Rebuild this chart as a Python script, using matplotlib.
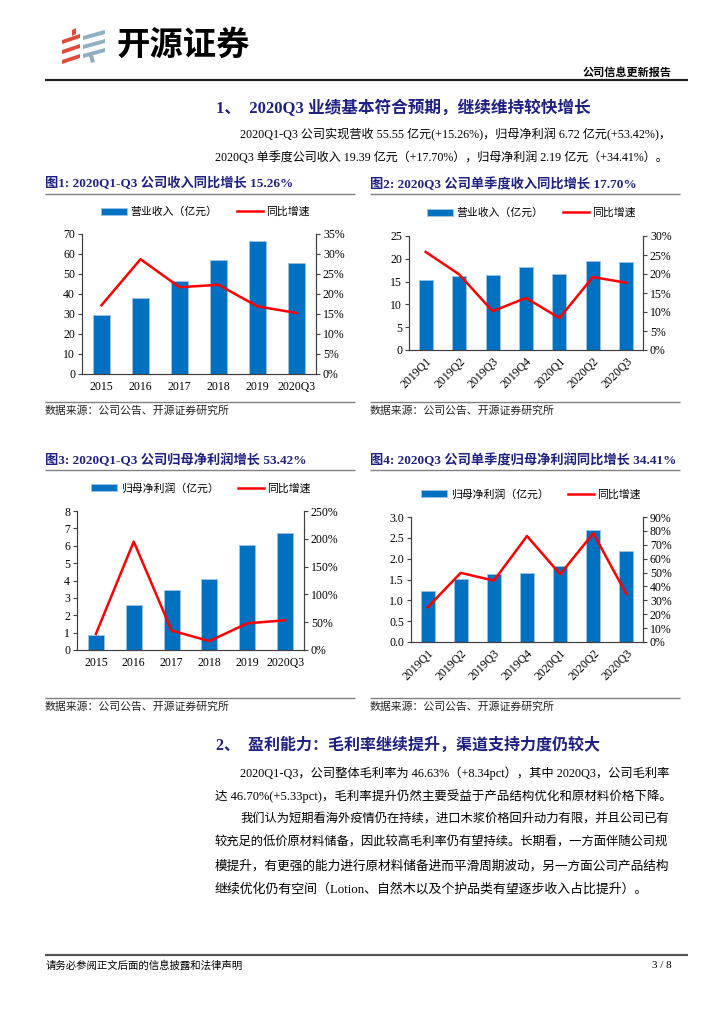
import numpy as np
import matplotlib
matplotlib.use('Agg')
import matplotlib.pyplot as plt
from matplotlib.patches import Polygon, Patch
from matplotlib.lines import Line2D

W, H = 724, 1024
SERIF = ['Liberation Serif', 'Noto Sans CJK SC']
CJK = ['Noto Sans CJK SC', 'DejaVu Sans']
NAVY = '#1F2083'
BLUE = '#0070C0'
RED = '#FF0000'

# data
years = ['2015', '2016', '2017', '2018', '2019', '2020Q3']
quarters = ['2019Q1', '2019Q2', '2019Q3', '2019Q4', '2020Q1', '2020Q2', '2020Q3']
revenue = [29.5, 38.1, 46.4, 56.8, 66.3, 55.55]
revenue_yoy = [17.2, 28.7, 21.7, 22.3, 16.9, 15.26]
q_revenue = [15.4, 16.3, 16.4, 18.2, 16.7, 19.5, 19.39]
q_revenue_yoy = [25.8, 19.9, 10.2, 13.7, 8.4, 19.2, 17.70]
profit = [0.85, 2.6, 3.48, 4.06, 6.04, 6.72]
profit_yoy = [29, 195, 35, 16, 48, 53.42]
q_profit = [1.23, 1.51, 1.63, 1.66, 1.83, 2.69, 2.19]
q_profit_yoy = [24.9, 49.8, 44.2, 76.3, 48.8, 78.3, 34.41]

fig = plt.figure(figsize=(W / 100, H / 100), dpi=100)
fig.patch.set_facecolor('white')
renderer = fig.canvas.get_renderer()

# overlay in pixel coords for page furniture
ov = fig.add_axes([0, 0, 1, 1])
ov.set_xlim(0, W)
ov.set_ylim(H, 0)
ov.axis('off')


def txt(x, y, s, size, color='black', weight='normal', ha='left', fit=None, family=SERIF):
    t = ov.text(x, y, s, fontsize=size, color=color, fontweight=weight,
                ha=ha, va='center', family=family)
    if fit:
        w = t.get_window_extent(renderer).width
        t.set_fontsize(size * fit / w)
    return t


def hline(x0, x1, y, lw=1.0, color='#808080'):
    ov.plot([x0, x1], [y, y], color=color, lw=lw, solid_capstyle='butt')


# logo
for yy in [36, 46, 56]:
    ov.add_patch(Polygon([(62, yy + 4), (80, yy - 2), (80, yy + 2), (62, yy + 8)],
                         closed=True, color='#E04A3A', lw=0))
ov.add_patch(Polygon([(72, 30), (76, 28), (76, 34), (72, 36)], closed=True, color='#E04A3A', lw=0))
for yy in [32, 41, 50]:
    ov.add_patch(Polygon([(83, yy + 4), (105, yy - 2), (105, yy + 2), (83, yy + 8)],
                         closed=True, color='#8FAFC4', lw=0))
ov.add_patch(Polygon([(89, 56), (93, 55), (95, 62), (91, 63)], closed=True, color='#8FAFC4', lw=0))
txt(117, 45, '开源证券', 24, weight='bold', family=CJK)
txt(672, 72, '公司信息更新报告', 8, weight='bold', ha='right', family=CJK)
hline(45, 688, 80, lw=1.6, color='#222222')

# section 1
txt(216, 108, '1、  2020Q3 业绩基本符合预期，继续维持较快增长', 12, color=NAVY, weight='bold')
txt(240, 135, '2020Q1-Q3 公司实现营收 55.55 亿元(+15.26%)，归母净利润 6.72 亿元(+53.42%)，', 9.5, fit=432)
txt(215, 158, '2020Q3 单季度公司收入 19.39 亿元（+17.70%），归母净利润 2.19 亿元（+34.41%）。', 9.5, fit=457)


def chart(box, title, title_xy, cats, bars, yoy, ymax, ystep, rmax, rstep,
          bar_label, legend_xy, rotate, yfmt, line_x, src_y):
    l, t, r, b = box
    ax = fig.add_axes([l / W, 1 - b / H, (r - l) / W, (b - t) / H])
    x = np.arange(len(cats))
    ax.bar(x, bars, width=0.42, color=BLUE, edgecolor='#9DC3E6', linewidth=0.6)
    ax.set_xlim(-0.5, len(cats) - 0.5)
    ax.set_ylim(0, ymax)
    yt = np.arange(0, ymax + ystep / 2, ystep)
    ax.set_yticks(yt)
    ax.set_yticklabels([yfmt.format(v) for v in yt])
    ax.set_xticks(x)
    if rotate:
        ax.set_xticklabels(cats, rotation=45, ha='right', va='top', rotation_mode='anchor')
    else:
        ax.set_xticklabels(cats)
    ax2 = ax.twinx()
    ax2.plot(x, yoy, color=RED, lw=1.8)
    ax2.set_ylim(0, rmax)
    rt = np.arange(0, rmax + rstep / 2, rstep)
    ax2.set_yticks(rt)
    ax2.set_yticklabels(['{:.0f}%'.format(v) for v in rt])
    for a in (ax, ax2):
        a.spines['top'].set_visible(False)
        for s in a.spines.values():
            s.set_color('#404040')
            s.set_linewidth(0.8)
        a.tick_params(axis='y', length=3, width=0.8, color='#404040', pad=2, labelsize=8.5)
        for lab in a.get_yticklabels():
            lab.set_family(SERIF)
    ax.tick_params(axis='x', length=0, pad=5 if not rotate else 4, labelsize=8.5)
    for lab in ax.get_xticklabels():
        lab.set_family(SERIF)
    handles = [Patch(facecolor=BLUE, edgecolor='#9DC3E6', lw=0.6),
               Line2D([0], [0], color=RED, lw=1.8)]
    ax.legend(handles, [bar_label, '同比增速'], ncol=2, frameon=False, loc='center',
              bbox_to_anchor=(legend_xy[0] / W, 1 - legend_xy[1] / H),
              bbox_transform=fig.transFigure, prop={'family': CJK, 'size': 7.8},
              handlelength=2.4, handletextpad=0.3, columnspacing=1.8)
    txt(title_xy[0], title_xy[1], title, 9.5, color=NAVY, weight='bold')
    hline(line_x[0], line_x[1], title_xy[1] + 10)
    hline(line_x[0], line_x[1], src_y - 9)
    txt(line_x[0], src_y, '数据来源：公司公告、开源证券研究所', 7.8, family=CJK, color='#222222')


chart((82, 234, 316, 374), '图1: 2020Q1-Q3 公司收入同比增长 15.26%', (45, 184),
      years, revenue, revenue_yoy, 70, 10, 35, 5, '营业收入（亿元）', (205, 212),
      False, '{:.0f}', (45, 355), 411)
chart((409, 236, 643, 350), '图2: 2020Q3 公司单季度收入同比增长 17.70%', (370, 184),
      quarters, q_revenue, q_revenue_yoy, 25, 5, 30, 5, '营业收入（亿元）', (531, 213),
      True, '{:.0f}', (370, 680), 411)
chart((77, 511, 304, 650), '图3: 2020Q1-Q3 公司归母净利润增长 53.42%', (45, 460),
      years, profit, profit_yoy, 8, 1, 250, 50, '归母净利润（亿元）', (201, 488),
      False, '{:.0f}', (45, 355), 707)
chart((411, 517, 643, 642), '图4: 2020Q3 公司单季度归母净利润同比增长 34.41%', (370, 460),
      quarters, q_profit, q_profit_yoy, 3.0, 0.5, 90, 10, '归母净利润（亿元）', (531, 494),
      True, '{:.1f}', (370, 680), 707)

# section 2
txt(216, 746, '2、  盈利能力：毛利率继续提升，渠道支持力度仍较大', 11.5, color=NAVY, weight='bold')
txt(240, 773, '2020Q1-Q3，公司整体毛利率为 46.63%（+8.34pct），其中 2020Q3，公司毛利率', 9.5, fit=432)
txt(215, 796, '达 46.70%(+5.33pct)，毛利率提升仍然主要受益于产品结构优化和原材料价格下降。', 9.5, fit=457)
txt(240, 820, '我们认为短期看海外疫情仍在持续，进口木浆价格回升动力有限，并且公司已有', 9.5, fit=432)
txt(215, 843, '较充足的低价原材料储备，因此较高毛利率仍有望持续。长期看，一方面伴随公司规', 9.5, fit=457)
txt(215, 866, '模提升，有更强的能力进行原材料储备进而平滑周期波动，另一方面公司产品结构', 9.5, fit=457)
txt(215, 889, '继续优化仍有空间（Lotion、自然木以及个护品类有望逐步收入占比提升）。', 9.3)

# footer
hline(45, 688, 955, lw=1.6, color='#555555')
txt(46, 966, '请务必参阅正文后面的信息披露和法律声明', 7.5, family=CJK)
txt(672, 966, '3 / 8', 8, ha='right')

fig.savefig('out.png', dpi=100, facecolor='white')
